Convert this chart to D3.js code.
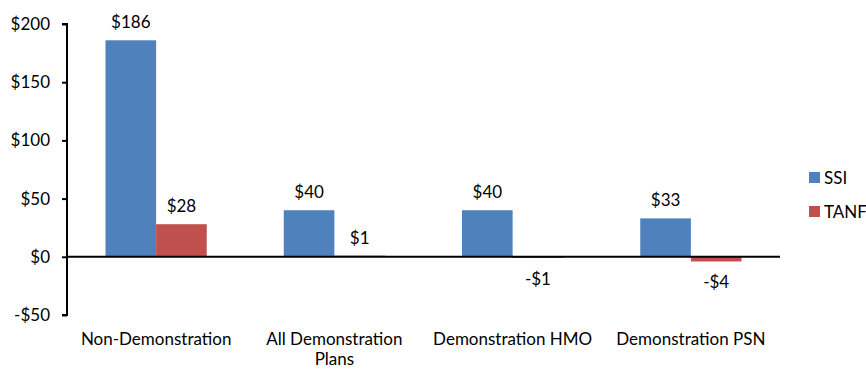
<!DOCTYPE html>
<html>
<head>
<meta charset="utf-8">
<script src="https://cdn.jsdelivr.net/npm/d3@7"></script>
<style>
  body { margin: 0; background: #fff; }
  svg text { font-family: Lato, "Open Sans", sans-serif; fill: #000; }
</style>
</head>
<body>
<div id="chart_div"></div>
<script>
// chart data
const categories = [["Non-Demonstration"], ["All Demonstration", "Plans"], ["Demonstration HMO"], ["Demonstration PSN"]];
const seriesNames = ["SSI", "TANF"];
const ssiValues = [186, 40, 40, 33];
const tanfValues = [28, 1, -1, -4];
const yTicks = [-50, 0, 50, 100, 150, 200];
const colors = ["#4F81BD", "#C0504D"];

const width = 866, height = 369;
const margin = {top: 24, left: 67, right: 86, bottom: 54};
const plot_w = 780 - margin.left;
const fs = "17px";

const svg = d3.select("#chart_div")
  .append("svg")
  .attr("width", width)
  .attr("height", height);

const x = d3.scaleBand()
  .domain(d3.range(categories.length))
  .range([margin.left, margin.left + plot_w])
  .paddingInner(0)
  .paddingOuter(0);

const xInner = d3.scaleBand()
  .domain(seriesNames)
  .range([38.5, x.bandwidth() - 38.5]);

const y = d3.scaleLinear()
  .domain([-50, 200])
  .range([315, 24]);

const fmt = v => (v < 0 ? "-$" : "$") + Math.abs(v);

// y axis
const yAxis = svg.append("g")
  .attr("transform", `translate(${margin.left},0)`)
  .call(d3.axisLeft(y).tickValues(yTicks).tickSize(5).tickPadding(12).tickFormat(fmt));
yAxis.select(".domain").attr("stroke", "#000").attr("stroke-width", 2).attr("d", `M-5,${y(-50)}H0V${y(200)}H-5`);
yAxis.selectAll(".tick line").attr("stroke", "#000").attr("stroke-width", 2);
yAxis.selectAll(".tick text").style("font-size", fs).style("font-family", "Lato, sans-serif").attr("fill", "#000");

// bars
const rows = categories.map((c, i) => ({i, vals: [ssiValues[i], tanfValues[i]]}));
const groups = svg.append("g").selectAll("g")
  .data(rows)
  .join("g")
  .attr("transform", d => `translate(${x(d.i)},0)`);

groups.selectAll("rect")
  .data(d => d.vals.map((v, k) => ({v, k})))
  .join("rect")
  .attr("x", d => xInner(seriesNames[d.k]))
  .attr("width", xInner.bandwidth())
  .attr("y", d => y(Math.max(0, d.v)))
  .attr("height", d => Math.abs(y(d.v) - y(0)))
  .attr("fill", d => colors[d.k]);

// value labels
groups.selectAll("text.val")
  .data(d => d.vals.map((v, k) => ({v, k})))
  .join("text")
  .attr("class", "val")
  .attr("text-anchor", "middle")
  .attr("x", d => xInner(seriesNames[d.k]) + xInner.bandwidth() / 2)
  .attr("y", d => d.v >= 0 ? y(d.v) - 12 : y(d.v) + 27)
  .style("font-size", fs)
  .text(d => fmt(d.v));

// zero line
svg.append("line")
  .attr("x1", margin.left).attr("x2", margin.left + plot_w)
  .attr("y1", y(0)).attr("y2", y(0))
  .attr("stroke", "#000").attr("stroke-width", 2);

// category labels
svg.append("g").selectAll("text")
  .data(categories)
  .join("text")
  .attr("text-anchor", "middle")
  .attr("x", (d, i) => x(i) + x.bandwidth() / 2)
  .attr("y", 345)
  .style("font-size", fs)
  .selectAll("tspan")
  .data(d => d)
  .join("tspan")
  .attr("x", function() { return d3.select(this.parentNode).attr("x"); })
  .attr("dy", (d, j) => j === 0 ? 0 : 20)
  .text(d => d);

// legend
const legend = svg.append("g").attr("transform", "translate(809,172)");
const li = legend.selectAll("g")
  .data(seriesNames)
  .join("g")
  .attr("transform", (d, i) => `translate(0,${i * 34})`);
li.append("rect").attr("width", 11).attr("height", 11).attr("fill", (d, i) => colors[i]);
li.append("text").attr("x", 15).attr("y", 11.5).style("font-size", fs).text(d => d);
</script>
</body>
</html>
